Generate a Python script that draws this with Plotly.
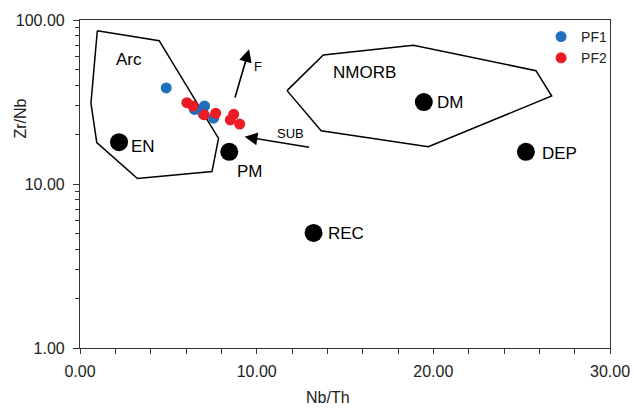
import math
import plotly.graph_objects as go

# ---- data ----
pf1_x = [4.88, 6.48, 7.05, 7.56, 6.95]
pf1_y = [38.5, 28.5, 29.9, 25.2, 27.0]
pf2_x = [6.05, 6.39, 7.03, 7.68, 8.70, 8.51, 9.04]
pf2_y = [31.3, 29.9, 26.4, 27.0, 26.6, 24.6, 23.2]

ref_names = ["EN", "PM", "DM", "DEP", "REC"]
ref_x = [2.21, 8.45, 19.46, 25.24, 13.22]
ref_y = [18.0, 15.7, 31.6, 15.7, 5.03]

arc_x = [0.98, 4.48, 7.84, 7.47, 3.25, 0.95, 0.62, 0.98]
arc_y = [86.0, 74.8, 19.0, 11.9, 10.8, 17.9, 31.1, 86.0]
morb_x = [11.72, 13.77, 18.87, 25.81, 26.70, 19.72, 13.65, 11.72]
morb_y = [37.1, 61.2, 70.1, 49.1, 34.4, 16.9, 21.1, 37.1]

x_ticks = [0, 10, 20, 30]
x_ticktext = ["0.00", "10.00", "20.00", "30.00"]
y_ticks = [1, 10, 100]
y_ticktext = ["1.00", "10.00", "100.00"]
y_minor = [2, 3, 4, 5, 6, 7, 8, 9, 20, 30, 40, 50, 60, 70, 80, 90]

FONT = "Liberation Sans, Arial, sans-serif"

fig = go.Figure()
fig.add_trace(go.Scatter(x=arc_x, y=arc_y, mode="lines",
                         line=dict(color="black", width=1.5), showlegend=False, hoverinfo="skip"))
fig.add_trace(go.Scatter(x=morb_x, y=morb_y, mode="lines",
                         line=dict(color="black", width=1.5), showlegend=False, hoverinfo="skip"))
fig.add_trace(go.Scatter(x=ref_x, y=ref_y, mode="markers",
                         marker=dict(color="black", size=18), showlegend=False))
fig.add_trace(go.Scatter(x=pf1_x, y=pf1_y, mode="markers", name="PF1",
                         marker=dict(color="#1f6fbd", size=11)))
fig.add_trace(go.Scatter(x=pf2_x, y=pf2_y, mode="markers", name="PF2",
                         marker=dict(color="#ec1c24", size=11)))

L = math.log10
labels = [
    ("Arc", 2.80, 57.8, "center", 17),
    ("NMORB", 14.18, 47.8, "left", 17),
    ("EN", 2.78, 16.9, "left", 17),
    ("PM", 8.79, 11.9, "left", 17),
    ("DM", 20.08, 31.3, "left", 17),
    ("DEP", 26.05, 15.4, "left", 17),
    ("REC", 13.95, 5.0, "left", 17),
    ("F", 10.06, 51.9, "center", 13),
    ("SUB", 11.91, 20.4, "center", 13),
]
anns = []
for t, x, y, al, fs in labels:
    anns.append(dict(x=x, y=L(y), xref="x", yref="y", text=t, showarrow=False,
                     xanchor=al, yanchor="middle", font=dict(family=FONT, size=fs, color="black")))
anns.append(dict(x=9.57, y=L(66.3), ax=8.75, ay=L(33.0), xref="x", yref="y", axref="x", ayref="y",
                 showarrow=True, arrowhead=2, arrowsize=1.6, arrowwidth=1.6, arrowcolor="black", text=""))
anns.append(dict(x=9.32, y=L(19.4), ax=13.05, ay=L(16.7), xref="x", yref="y", axref="x", ayref="y",
                 showarrow=True, arrowhead=2, arrowsize=1.6, arrowwidth=1.6, arrowcolor="black", text=""))
# axis titles
anns.append(dict(x=0.468, y=-0.152, xref="paper", yref="paper", text="Nb/Th", showarrow=False,
                 xanchor="center", yanchor="middle", font=dict(family=FONT, size=16, color="#222")))
anns.append(dict(x=-0.113, y=0.70, xref="paper", yref="paper", text="Zr/Nb", showarrow=False,
                 textangle=-90, xanchor="center", yanchor="middle",
                 font=dict(family=FONT, size=16, color="#222")))

fig.update_layout(
    width=634, height=408,
    margin=dict(l=80, r=24, t=20, b=60, autoexpand=False),
    paper_bgcolor="white", plot_bgcolor="white",
    font=dict(family=FONT, size=16, color="#222"),
    annotations=anns,
    legend=dict(x=0.87, y=0.997, xanchor="left", yanchor="top", bgcolor="rgba(0,0,0,0)",
                font=dict(size=14, family=FONT), itemwidth=30, tracegroupgap=0),
    xaxis=dict(range=[0, 30], tickvals=x_ticks, ticktext=x_ticktext, ticks="outside", ticklen=5,
               showline=True, linecolor="#333", linewidth=1.2, mirror=True, showgrid=False, zeroline=False,
               minor=dict(dtick=2, ticks="outside", ticklen=5, tickcolor="#333", showgrid=False),
               tickcolor="#333", ticklabelstandoff=4, automargin=False),
    yaxis=dict(type="log", range=[0, 2], tickvals=y_ticks, ticktext=y_ticktext, ticks="outside", ticklen=6,
               showline=True, linecolor="#333", linewidth=1.2, mirror=True, showgrid=False, zeroline=False,
               minor=dict(tickvals=y_minor, ticks="outside", ticklen=4, tickcolor="#333", showgrid=False),
               tickcolor="#333", ticklabelstandoff=5, automargin=False),
)
fig.write_html("out.html")
